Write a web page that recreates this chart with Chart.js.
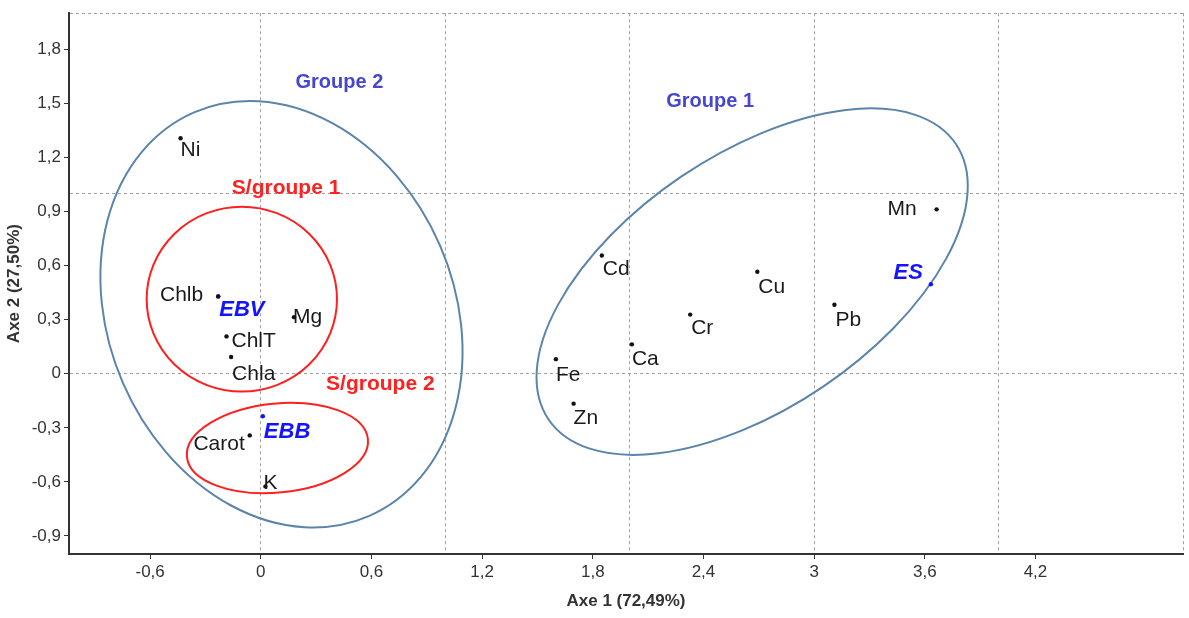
<!DOCTYPE html>
<html>
<head>
<meta charset="utf-8">
<script src="https://cdn.jsdelivr.net/npm/chart.js@4.4.1/dist/chart.umd.min.js"></script>
<style>
  html, body { margin: 0; background: #fff; }
  #wrap { width: 1189px; height: 618px; position: relative; }
</style>
</head>
<body>
<div id="wrap"><canvas id="chart"></canvas></div>
<script>
// Variables (factor coordinates on axes 1 and 2)
const varNames = ["Ni", "Chlb", "ChlT", "Chla", "Mg", "Carot", "K", "Cd", "Cu", "Cr", "Ca", "Fe", "Zn", "Mn", "Pb"]
const varX = [-0.435, -0.231, -0.186, -0.161, 0.18, -0.06, 0.025, 1.849, 2.692, 2.328, 2.012, 1.6, 1.696, 3.664, 3.11]
const varY = [1.306, 0.429, 0.207, 0.093, 0.314, -0.342, -0.625, 0.656, 0.566, 0.328, 0.163, 0.081, -0.166, 0.912, 0.383]

// Sites (supplementary points)
const siteNames = ["EBV", "EBB", "ES"]
const siteX = [-0.231, 0.011, 3.633]
const siteY = [0.429, -0.236, 0.496]

// Groups (ellipse centre, half widths in axis units, tilt in degrees)
const groupNames = ["Groupe 1", "Groupe 2"]
const groupCX = [2.664, 0.112]
const groupCY = [0.511, 0.33]
const groupRX = [1.333, 0.937]
const groupRY = [0.703, 1.22]
const groupTilt = [-34.1, -23.4]
const groupLabelX = [2.436, 0.426]
const groupLabelY = [1.511, 1.615]

// Sub-groups
const subNames = ["S/groupe 1", "S/groupe 2"]
const subCX = [-0.103, 0.09]
const subCY = [0.414, -0.412]
const subRX = [0.516, 0.493]
const subRY = [0.513, 0.247]
const subTilt = [0, -5.6]
const subLabelX = [0.137, 0.648]
const subLabelY = [1.027, -0.06]

// Axes
const xTickValues = [-0.6, 0, 0.6, 1.2, 1.8, 2.4, 3, 3.6, 4.2]
const yTickValues = [-0.9, -0.6, -0.3, 0, 0.3, 0.6, 0.9, 1.2, 1.5, 1.8]
const xGridValues = [0, 1, 2, 3, 4, 5]
const yGridValues = [0, 1, 2]

// Label placement (pixels from the dot) - style only
const varLabelDx = [0, -15, 5, 1, -1, -5, -2, 1, 1, 1, 0, 0, 0, -20, 1]
const varLabelDy = [12, -1, 5, 17, 0, 9, -3, 14, 16, 14, 15, 16, 15, 0, 16]
const siteLabelDx = [1, 1, -8]
const siteLabelDy = [14, 16, -11]

const FONT = "'Liberation Sans', Arial, sans-serif"
const has = (list, v) => list.some((t) => Math.abs(t - v) < 1e-9)
const fmt = (v) => String(Math.round(v * 10) / 10).replace(".", ",")

const ellipsePlugin = {
  id: "ellipses",
  beforeDatasetsDraw(chart) {
    const { ctx, scales: { x, y } } = chart
    const ux = x.getPixelForValue(1) - x.getPixelForValue(0)
    const uy = y.getPixelForValue(0) - y.getPixelForValue(1)
    const draw = (cx, cy, rx, ry, tilt, color) => {
      ctx.beginPath()
      ctx.ellipse(x.getPixelForValue(cx), y.getPixelForValue(cy), rx * ux, ry * uy, (tilt * Math.PI) / 180, 0, Math.PI * 2)
      ctx.strokeStyle = color
      ctx.lineWidth = 2
      ctx.stroke()
    }
    ctx.save()
    groupCX.forEach((_, i) => draw(groupCX[i], groupCY[i], groupRX[i], groupRY[i], groupTilt[i], "#5b84ab"))
    subCX.forEach((_, i) => draw(subCX[i], subCY[i], subRX[i], subRY[i], subTilt[i], "#ff1f1f"))
    ctx.restore()
  },
}

const labelPlugin = {
  id: "labels",
  afterDatasetsDraw(chart) {
    const { ctx, scales: { x, y } } = chart
    ctx.save()
    ctx.textBaseline = "middle"

    // variable names
    ctx.font = "21px " + FONT
    ctx.fillStyle = "#1a1a1a"
    varNames.forEach((name, i) => {
      const dx = varLabelDx[i]
      ctx.textAlign = dx < -2 ? "right" : "left"
      ctx.fillText(name, x.getPixelForValue(varX[i]) + dx, y.getPixelForValue(varY[i]) + varLabelDy[i])
    })

    // site names
    ctx.font = "italic bold 22px " + FONT
    ctx.fillStyle = "#1414ff"
    siteNames.forEach((name, i) => {
      const dx = siteLabelDx[i]
      ctx.textAlign = dx < -2 ? "right" : "left"
      ctx.fillText(name, x.getPixelForValue(siteX[i]) + dx, y.getPixelForValue(siteY[i]) + siteLabelDy[i])
    })

    // group titles
    ctx.textAlign = "center"
    ctx.font = "bold 20px " + FONT
    ctx.fillStyle = "#4646cf"
    groupNames.forEach((name, i) => {
      ctx.fillText(name, x.getPixelForValue(groupLabelX[i]), y.getPixelForValue(groupLabelY[i]))
    })
    ctx.font = "bold 21px " + FONT
    ctx.fillStyle = "#ff2020"
    subNames.forEach((name, i) => {
      ctx.fillText(name, x.getPixelForValue(subLabelX[i]), y.getPixelForValue(subLabelY[i]))
    })
    ctx.restore()
  },
}

// Build the axis options: one tick list holding label ticks and grid ticks
function axisOptions(labelValues, gridValues, min, max, title) {
  return {
    type: "linear",
    min: min,
    max: max,
    afterBuildTicks(scale) {
      const all = [...new Set([...labelValues, ...gridValues])].sort((a, b) => a - b)
      scale.ticks = all.map((v) => ({ value: v }))
    },
    ticks: {
      autoSkip: false,
      maxRotation: 0,
      color: "#333",
      padding: 3,
      font: { family: FONT, size: 17 },
      callback: (v) => (has(labelValues, v) ? fmt(v) : ""),
    },
    grid: {
      drawTicks: true,
      tickLength: 5,
      lineWidth: 1,
      color: (c) => (c.tick && has(gridValues, c.tick.value) ? "#a0a0a0" : "rgba(0,0,0,0)"),
      tickColor: (c) => (c.tick && has(labelValues, c.tick.value) ? "#333" : "rgba(0,0,0,0)"),
    },
    border: { display: true, color: "#333", width: 2, dash: [3, 3] },
    title: {
      display: true,
      text: title,
      color: "#333",
      font: { family: FONT, size: 17, weight: "bold" },
      padding: { top: 4, bottom: 6 },
    },
  }
}

const xAxis = axisOptions(xTickValues, xGridValues, -1.04, 5, "Axe 1 (72,49%)")
xAxis.afterFit = (scale) => { scale.height = 64 }
const yAxis = axisOptions(yTickValues, yGridValues, -1, 2, "Axe 2 (27,50%)")
yAxis.afterFit = (scale) => { scale.width = 69 }

new Chart(document.getElementById("chart"), {
  type: "scatter",
  data: {
    datasets: [
      {
        label: "Variables",
        data: varX.map((v, i) => ({ x: v, y: varY[i] })),
        backgroundColor: "#111",
        borderWidth: 0,
        pointRadius: 2.2,
      },
      {
        label: "Sites",
        data: siteX.map((v, i) => ({ x: v, y: siteY[i] })),
        backgroundColor: "#1414ff",
        borderWidth: 0,
        pointRadius: 2.2,
      },
    ],
  },
  options: {
    responsive: true,
    maintainAspectRatio: false,
    animation: false,
    layout: { padding: { top: 8, right: 6, left: 0, bottom: 0 } },
    plugins: {
      legend: { display: false },
      tooltip: { enabled: false },
    },
    scales: { x: xAxis, y: yAxis },
  },
  plugins: [ellipsePlugin, labelPlugin],
})
</script>
</body>
</html>
